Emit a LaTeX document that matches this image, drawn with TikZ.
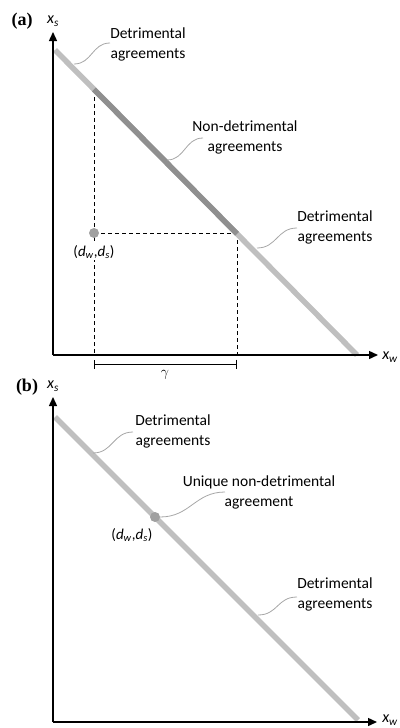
\documentclass[tikz,border=0pt]{standalone}
\usepackage{fontspec}
\setmainfont{Carlito}
\newfontfamily\serifb{Liberation Serif}
\usetikzlibrary{arrows.meta}
\definecolor{lightline}{HTML}{BFBFBF}
\definecolor{darkline}{HTML}{8F8F8F}
\definecolor{calloutc}{HTML}{A6A6A6}
\definecolor{dotc}{HTML}{A0A0A0}
\tikzset{
  axis/.style={line width=1.4pt,-{Triangle[length=9pt,width=8pt]}},
  feas/.style={line width=5.5pt,color=lightline,line cap=butt},
  feasdark/.style={line width=5.5pt,color=darkline,line cap=butt},
  guide/.style={line width=0.8pt,dash pattern=on 4pt off 3pt},
  callout/.style={line width=0.8pt,color=calloutc},
  lbl/.style={align=center,inner sep=0pt,font=\fontsize{15.5}{20}\selectfont},
  axlbl/.style={inner sep=0pt,font=\fontsize{16}{18}\selectfont\itshape},
  ptlbl/.style={inner sep=1pt,fill=white,font=\fontsize{15}{17}\selectfont},
  panel/.style={inner sep=0pt,font=\fontsize{18}{20}\selectfont\serifb\bfseries},
  dot/.style={circle,fill=dotc,inner sep=0pt,minimum size=10pt},
}
\begin{document}
\begin{tikzpicture}[x=1pt,y=-1pt]
\useasboundingbox (0,0) rectangle (399,728);
% ---------- panel (a) ----------
\node[panel] (pa) at (22,21) {(a)};
\coordinate (ao) at (53,355);
\coordinate (ay) at (53,32);
\coordinate (ax) at (378,355);
\node[axlbl] (axs) at (53,21) {x\textsubscript{s}};
\node[axlbl] (axw) at (390,357) {x\textsubscript{w}};
% guides
\coordinate (ag1) at (94,90);
\coordinate (ag1b) at (94,355);
\coordinate (apt) at (94,233);
\coordinate (ag2) at (237,233);
\coordinate (ag2b) at (237,355);
\draw[guide] (ag1) -- (ag1b);
\draw[guide] (apt) -- (ag2);
\draw[guide] (ag2) -- (ag2b);
% feasible line
\coordinate (al1) at (55,50);
\coordinate (al2) at (357,355);
\coordinate (ad1) at (94,89.4);
\coordinate (ad2) at (237,233.8);
\draw[feas] (al1) -- (al2);
\draw[feasdark] (ad1) -- (ad2);
% axes
\draw[axis] (ao) -- (ay);
\draw[axis] (ao) -- (ax);
% point
\node[dot] (adot) at (apt) {};
\node[ptlbl] (adl) at (94,252) {(\textit{d}\textsubscript{\textit{w}},\textit{d}\textsubscript{\textit{s}})};
% gamma bracket
\coordinate (gb1) at (94,364);
\coordinate (gb2) at (237,364);
\draw[line width=0.9pt,{Bar[width=9pt]}-{Bar[width=9pt]}] (gb1) -- (gb2);
\node[inner sep=0pt,font=\fontsize{14}{16}\selectfont] (gam) at (165,375) {$\gamma$};
% callouts
\node[lbl] (at1) at (148,44) {Detrimental\\agreements};
\node[lbl] (at2) at (245,137) {Non-detrimental\\agreements};
\node[lbl] (at3) at (335,227) {Detrimental\\agreements};
\coordinate (ac1s) at (74,64);  \coordinate (ac1e) at (110,43);
\coordinate (ac2s) at (167,160); \coordinate (ac2e) at (203,138);
\coordinate (ac3s) at (257,248); \coordinate (ac3e) at (297,228);
\draw[callout] (ac1s) .. controls +(18,0) and +(-18,0) .. (ac1e);
\draw[callout] (ac2s) .. controls +(18,0) and +(-18,0) .. (ac2e);
\draw[callout] (ac3s) .. controls +(20,0) and +(-20,0) .. (ac3e);
% ---------- panel (b) ----------
\node[panel] (pb) at (27,387) {(b)};
\coordinate (bo) at (53,722);
\coordinate (by) at (53,397);
\coordinate (bx) at (377,722);
\node[axlbl] (bxs) at (53,386) {x\textsubscript{s}};
\node[axlbl] (bxw) at (390,720) {x\textsubscript{w}};
\coordinate (bl1) at (55,417);
\coordinate (bl2) at (358,720);
\draw[feas] (bl1) -- (bl2);
\draw[axis] (bo) -- (by);
\draw[axis] (bo) -- (bx);
\node[dot] (bdot) at (155,517) {};
\node[inner sep=0pt,font=\fontsize{15}{17}\selectfont] (bdl) at (132,535) {(\textit{d}\textsubscript{\textit{w}},\textit{d}\textsubscript{\textit{s}})};
\node[lbl] (bt1) at (173,431) {Detrimental\\agreements};
\node[lbl] (bt2) at (259,492) {Unique non-detrimental\\agreement};
\node[lbl] (bt3) at (335,594) {Detrimental\\agreements};
\coordinate (bc1s) at (93,453);  \coordinate (bc1e) at (133,432);
\coordinate (bc2e) at (225,492);
\coordinate (bc3s) at (258,615); \coordinate (bc3e) at (297,597);
\draw[callout] (bc1s) .. controls +(20,0) and +(-20,0) .. (bc1e);
\draw[callout] (bdot.east) .. controls +(30,0) and +(-30,0) .. (bc2e);
\draw[callout] (bc3s) .. controls +(20,0) and +(-20,0) .. (bc3e);
\end{tikzpicture}
\end{document}
